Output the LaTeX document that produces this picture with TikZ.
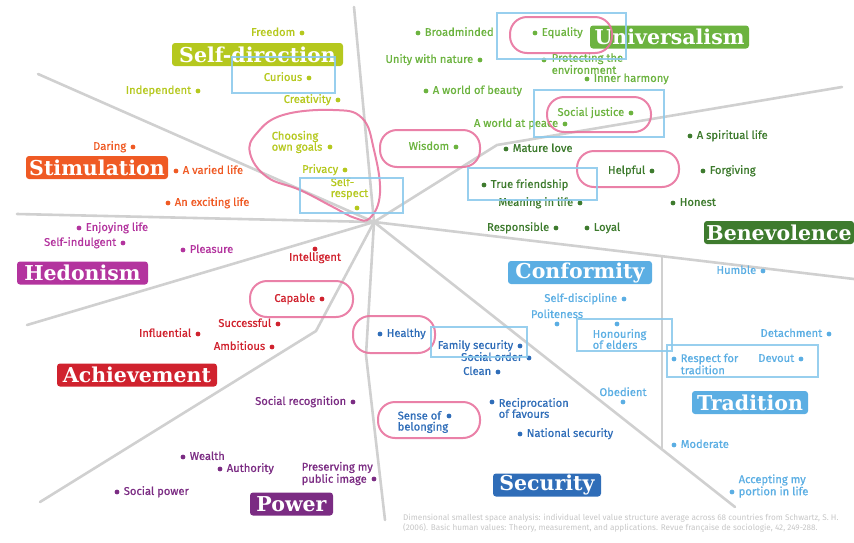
\documentclass[tikz,border=0pt]{standalone}
\usepackage{fontspec}
\setmainfont{Fira Sans}
\newfontfamily\valfont{Fira Sans}[FakeBold=0.8]
\newfontfamily\catfont{DejaVu Serif}
\usetikzlibrary{positioning}

\definecolor{sdcol}{HTML}{B5C81E}
\definecolor{uncol}{HTML}{6CB33F}
\definecolor{bvcol}{HTML}{3E7B2E}
\definecolor{cfcol}{HTML}{5BAEE3}
\definecolor{secol}{HTML}{2F6DB8}
\definecolor{pwcol}{HTML}{7B2C83}
\definecolor{accol}{HTML}{D0222E}
\definecolor{hdcol}{HTML}{B3349E}
\definecolor{stcol}{HTML}{EF5A24}
\definecolor{pinkcol}{HTML}{E8739E}
\definecolor{boxcol}{HTML}{8DCAEC}
\definecolor{sepcol}{HTML}{D0D0D0}

\tikzset{
  sep/.style={draw=sepcol, line width=2.6pt, line cap=round, line join=round},
  vdot/.style={circle, fill=#1, inner sep=0pt, minimum size=4.8pt},
  val/.style={text=#1, font=\valfont\fontsize{11.2}{11}\selectfont, inner sep=0.5pt, text height=8pt, text depth=2.2pt},
  val2/.style={text=#1, font=\valfont\fontsize{11.2}{11}\selectfont, inner sep=0.5pt, align=left},
  cat/.style={fill=#1, text=white, font=\catfont\bfseries\fontsize{20.5}{20}\selectfont, rounded corners=3pt, inner sep=0pt, minimum height=23pt},
  hl/.style={draw=pinkcol, line width=2pt, opacity=0.9},
  bx/.style={draw=boxcol, line width=2.4pt, opacity=0.9},
}

\begin{document}
\begin{tikzpicture}[x=1pt, y=-1pt, node distance=3.5pt]
    \useasboundingbox (0,0) rectangle (854,542);

    % dividing lines
    \coordinate (hub) at (374,222);
    \coordinate (top) at (354,7);
    \coordinate (nw) at (38,74);
    \coordinate (w) at (17,214);
    \coordinate (sw) at (27,325);
    \coordinate (ssw-k) at (316,331);
    \coordinate (ssw) at (40,502);
    \coordinate (s-k) at (366,355);
    \coordinate (s) at (385,520);
    \coordinate (se) at (735,507);
    \coordinate (e) at (854,279);
    \coordinate (ne-k) at (497,145);
    \coordinate (ne) at (842,87);
    \coordinate (v-low) at (662,449);
    \coordinate (v-up) at (662,257);
    \draw[sep] (top) -- (hub);
    \draw[sep] (nw) -- (hub);
    \draw[sep] (w) -- (hub);
    \draw[sep] (sw) -- (hub);
    \draw[sep] (ssw) -- (ssw-k) -- (hub);
    \draw[sep] (s) -- (s-k) -- (hub);
    \draw[sep] (hub) -- (se);
    \draw[sep] (hub) -- (e);
    \draw[sep] (hub) -- (ne-k) -- (ne);
    \draw[sep] (v-low) -- (v-up);

    % categories
    \node[cat=sdcol, minimum width=171pt] (selfdir) at (257.5,54.5) {Self-direction};
    \node[cat=uncol, minimum width=159pt] (univ) at (669.5,37) {Universalism};
    \node[cat=bvcol, minimum width=150pt] (bene) at (779,232.5) {Benevolence};
    \node[cat=cfcol, minimum width=144pt] (conf) at (580,272.5) {Conformity};
    \node[cat=cfcol, minimum width=116pt] (trad) at (750,402.5) {Tradition};
    \node[cat=secol, minimum width=108pt] (secu) at (547,485) {Security};
    \node[cat=pwcol, minimum width=83pt] (power) at (291.5,504) {Power};
    \node[cat=accol, minimum width=160pt] (achv) at (137,375) {Achievement};
    \node[cat=hdcol, minimum width=131pt] (hedo) at (82.5,273) {Hedonism};
    \node[cat=stcol, minimum width=142pt] (stim) at (97,167.5) {Stimulation};

    % self-direction
    \node[vdot=sdcol] (freedom) at (302,33) {};
    \node[val=sdcol, left=of freedom] (freedom-t) {Freedom};
    \node[vdot=sdcol] (curious) at (309,78) {};
    \node[val=sdcol, left=of curious] (curious-t) {Curious};
    \node[vdot=sdcol] (indep) at (198,91) {};
    \node[val=sdcol, left=of indep] (indep-t) {Independent};
    \node[vdot=sdcol] (creat) at (338,100) {};
    \node[val=sdcol, left=of creat] (creat-t) {Creativity};
    \node[vdot=sdcol] (goals) at (330,147) {};
    \node[val2=sdcol, anchor=west] (goals-t) at (271,142) {Choosing\\own goals};
    \node[vdot=sdcol] (privacy) at (345,170) {};
    \node[val=sdcol, left=of privacy] (privacy-t) {Privacy};
    \node[vdot=sdcol] (selfresp) at (357,208) {};
    \node[val2=sdcol, anchor=west] (selfresp-t) at (330,188.5) {Self-\\respect};

    % universalism
    \node[vdot=uncol] (broad) at (418,33) {};
    \node[val=uncol, right=of broad] (broad-t) {Broadminded};
    \node[vdot=uncol] (equal) at (535,33) {};
    \node[val=uncol, right=of equal] (equal-t) {Equality};
    \node[vdot=uncol] (unity) at (480,60) {};
    \node[val=uncol, left=of unity] (unity-t) {Unity with nature};
    \node[vdot=uncol] (protect) at (544,60) {};
    \node[val2=uncol, anchor=west, font=\valfont\fontsize{11.2}{9.3}\selectfont] (protect-t) at (551,63.5) {Protecting the\\environment};
    \node[vdot=uncol] (inner) at (587,79) {};
    \node[val=uncol, right=of inner] (inner-t) {Inner harmony};
    \node[vdot=uncol] (beauty) at (426,91) {};
    \node[val=uncol, right=of beauty] (beauty-t) {A world of beauty};
    \node[vdot=uncol] (justice) at (631,113) {};
    \node[val=uncol, left=of justice] (justice-t) {Social justice};
    \node[vdot=uncol] (peace) at (565,124) {};
    \node[val=uncol, left=of peace] (peace-t) {A world at peace};
    \node[vdot=uncol] (wisdom) at (456,147) {};
    \node[val=uncol, left=of wisdom] (wisdom-t) {Wisdom};

    % benevolence
    \node[vdot=bvcol] (mature) at (506,149) {};
    \node[val=bvcol, right=of mature] (mature-t) {Mature love};
    \node[vdot=bvcol] (spirit) at (690,136) {};
    \node[val=bvcol, right=of spirit] (spirit-t) {A spiritual life};
    \node[vdot=bvcol] (helpful) at (652,171) {};
    \node[val=bvcol, left=of helpful] (helpful-t) {Helpful};
    \node[vdot=bvcol] (forgive) at (703,171) {};
    \node[val=bvcol, right=of forgive] (forgive-t) {Forgiving};
    \node[vdot=bvcol] (friend) at (484,185) {};
    \node[val=bvcol, right=of friend] (friend-t) {True friendship};
    \node[vdot=bvcol] (meaning) at (580,203) {};
    \node[val=bvcol, left=of meaning] (meaning-t) {Meaning in life};
    \node[vdot=bvcol] (honest) at (673,203) {};
    \node[val=bvcol, right=of honest] (honest-t) {Honest};
    \node[vdot=bvcol] (respons) at (556,228) {};
    \node[val=bvcol, left=of respons] (respons-t) {Responsible};
    \node[vdot=bvcol] (loyal) at (587,228) {};
    \node[val=bvcol, right=of loyal] (loyal-t) {Loyal};

    % stimulation
    \node[vdot=stcol] (daring) at (133,147) {};
    \node[val=stcol, left=of daring] (daring-t) {Daring};
    \node[vdot=stcol] (varied) at (176,171) {};
    \node[val=stcol, right=of varied] (varied-t) {A varied life};
    \node[vdot=stcol] (exciting) at (168,203) {};
    \node[val=stcol, right=of exciting] (exciting-t) {An exciting life};

    % hedonism
    \node[vdot=hdcol] (enjoy) at (79,228) {};
    \node[val=hdcol, right=of enjoy] (enjoy-t) {Enjoying life};
    \node[vdot=hdcol] (indulg) at (123,243) {};
    \node[val=hdcol, left=of indulg] (indulg-t) {Self-indulgent};
    \node[vdot=hdcol] (pleasure) at (183,250) {};
    \node[val=hdcol, right=of pleasure] (pleasure-t) {Pleasure};

    % achievement
    \node[vdot=accol] (intel) at (315,249) {};
    \node[val=accol, below=0.5pt of intel] (intel-t) {Intelligent};
    \node[vdot=accol] (capable) at (322,299) {};
    \node[val=accol, left=of capable] (capable-t) {Capable};
    \node[vdot=accol] (success) at (278,324) {};
    \node[val=accol, left=of success] (success-t) {Successful};
    \node[vdot=accol] (influ) at (198,334) {};
    \node[val=accol, left=of influ] (influ-t) {Influential};
    \node[vdot=accol] (ambit) at (272,347) {};
    \node[val=accol, left=of ambit] (ambit-t) {Ambitious};

    % power
    \node[vdot=pwcol] (recog) at (353,402) {};
    \node[val=pwcol, left=of recog] (recog-t) {Social recognition};
    \node[vdot=pwcol] (wealth) at (183,457) {};
    \node[val=pwcol, right=of wealth] (wealth-t) {Wealth};
    \node[vdot=pwcol] (author) at (220,469) {};
    \node[val=pwcol, right=of author] (author-t) {Authority};
    \node[vdot=pwcol] (image) at (374,479) {};
    \node[val2=pwcol, anchor=west] (image-t) at (301,473.5) {Preserving my\\public image};
    \node[vdot=pwcol] (socpow) at (117,492) {};
    \node[val=pwcol, right=of socpow] (socpow-t) {Social power};

    % security
    \node[vdot=secol] (healthy) at (380,334) {};
    \node[val=secol, right=of healthy] (healthy-t) {Healthy};
    \node[vdot=secol] (family) at (520,346) {};
    \node[val=secol, left=of family] (family-t) {Family security};
    \node[vdot=secol] (order) at (529,358) {};
    \node[val=secol, left=of order] (order-t) {Social order};
    \node[vdot=secol] (clean) at (498,372) {};
    \node[val=secol, left=of clean] (clean-t) {Clean};
    \node[vdot=secol] (recip) at (492,402) {};
    \node[val2=secol, anchor=west] (recip-t) at (498,408) {Reciprocation\\of favours};
    \node[vdot=secol] (belong) at (449,416) {};
    \node[val2=secol, anchor=west] (belong-t) at (397,422) {Sense of\\belonging};
    \node[vdot=secol] (natsec) at (520,434) {};
    \node[val=secol, right=of natsec] (natsec-t) {National security};

    % conformity
    \node[vdot=cfcol] (discip) at (624,299) {};
    \node[val=cfcol, left=of discip] (discip-t) {Self-discipline};
    \node[vdot=cfcol] (polite) at (557,324) {};
    \node[val=cfcol, above=0.5pt of polite] (polite-t) {Politeness};
    \node[vdot=cfcol] (elders) at (617,324) {};
    \node[val2=cfcol, anchor=west] (elders-t) at (592,339) {Honouring\\of elders};
    \node[vdot=cfcol] (obed) at (623,402) {};
    \node[val=cfcol, above=0.5pt of obed] (obed-t) {Obedient};

    % tradition
    \node[vdot=cfcol] (humble) at (763,271) {};
    \node[val=cfcol, left=of humble] (humble-t) {Humble};
    \node[vdot=cfcol] (detach) at (829,334) {};
    \node[val=cfcol, left=of detach] (detach-t) {Detachment};
    \node[vdot=cfcol] (devout) at (801,359) {};
    \node[val=cfcol, left=of devout] (devout-t) {Devout};
    \node[vdot=cfcol] (respect) at (674,359) {};
    \node[val2=cfcol, anchor=west] (respect-t) at (680,364) {Respect for\\tradition};
    \node[vdot=cfcol] (moder) at (674,445) {};
    \node[val=cfcol, right=of moder] (moder-t) {Moderate};
    \node[vdot=cfcol] (accept) at (732,492) {};
    \node[val2=cfcol, anchor=west] (accept-t) at (738,486) {Accepting my\\portion in life};

    % source
    \node[anchor=north west, align=left, text=gray!45, font=\fontsize{8.2}{8.5}\selectfont, inner sep=0pt] (source) at (403,514) {Dimensional smallest space analysis: individual level value structure average across 68 countries from Schwartz, S. H.\\(2006). Basic human values: Theory, measurement, and applications. Revue fran\c{c}aise de sociologie, 42, 249-288.};

    % highlights
    \draw[hl] plot[smooth cycle, tension=0.7] coordinates {(250,153) (257,133) (283,115) (333,110) (362,118) (374,150) (380,193) (370,218) (355,218) (333,207) (300,190) (267,177)};
    \draw[hl, rounded corners=17pt] (510,17) rectangle (612,53);
    \draw[hl, rounded corners=17pt] (547,97) rectangle (651,132);
    \draw[hl, rounded corners=17pt] (380,130) rectangle (480,167);
    \draw[hl, rounded corners=17pt] (577,151) rectangle (679,187);
    \draw[hl, rounded corners=17pt] (250,281) rectangle (353,317);
    \draw[hl, rounded corners=17pt] (353,316) rectangle (435,353);
    \draw[hl, rounded corners=17pt] (378,402) rectangle (480,438);
    \draw[bx] (232,57) rectangle (335,93);
    \draw[bx] (300,178) rectangle (403,213);
    \draw[bx] (497,13) rectangle (626,59);
    \draw[bx] (534,90) rectangle (664,137);
    \draw[bx] (468,168) rectangle (597,200);
    \draw[bx] (431,327) rectangle (527,357);
    \draw[bx] (577,319) rectangle (672,351);
    \draw[bx] (667,345) rectangle (818,377);
\end{tikzpicture}
\end{document}
